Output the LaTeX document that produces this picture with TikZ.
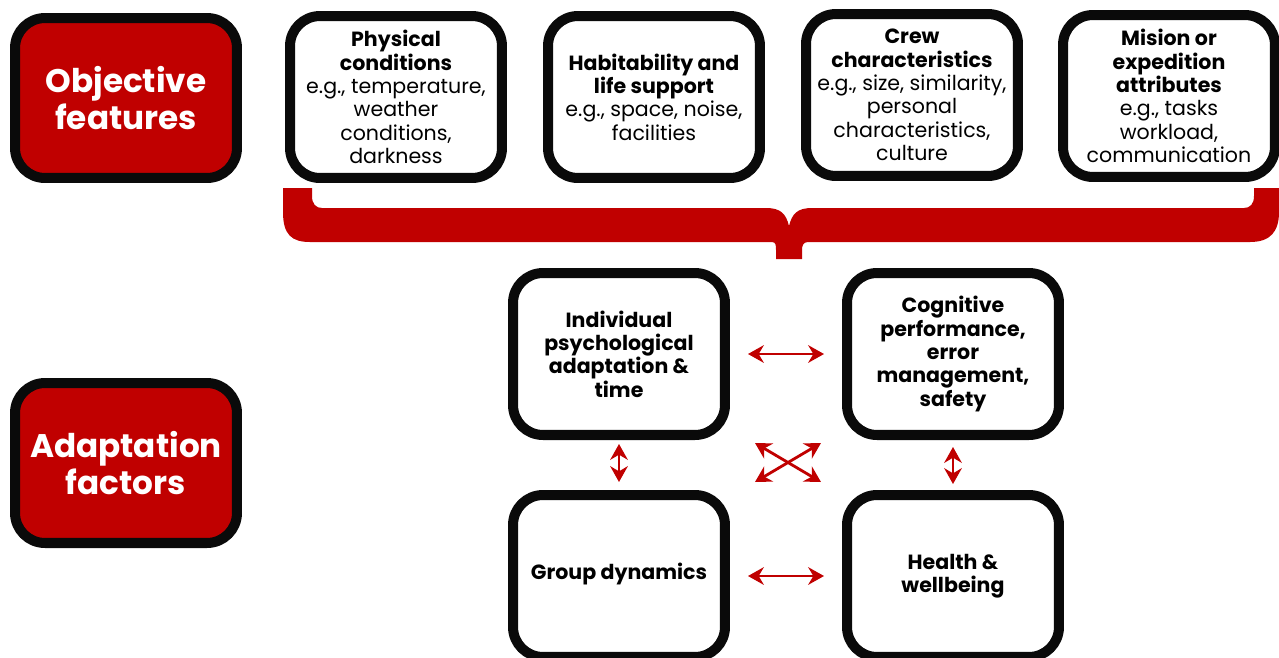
\documentclass[tikz,border=0pt]{standalone}
\usepackage{fontspec}
\setmainfont{Poppins}
\usetikzlibrary{arrows.meta}
\definecolor{darkred}{RGB}{192,0,0}
\definecolor{nearblack}{RGB}{10,10,10}
\tikzset{
  box/.style={draw=nearblack, line width=5.7pt, rounded corners=0.6cm, fill=white,
    minimum width=4.24cm, minimum height=3.24cm, inner sep=0pt, align=center,
    font=\fontsize{11.7}{13.3}\selectfont},
  boldbox/.style={box, font=\fontsize{11.7}{13.3}\selectfont\bfseries},
  redbox/.style={box, fill=darkred, text=white, minimum width=4.44cm, minimum height=3.2cm,
    font=\fontsize{18.6}{21}\selectfont\bfseries},
  link/.style={draw=darkred, line width=1.6pt,
    {Stealth[length=9pt,width=10pt]}-{Stealth[length=9pt,width=10pt]}}
}
\begin{document}
\begin{tikzpicture}[x=0.02cm,y=-0.02cm]
\useasboundingbox (0,0) rectangle (1279,657);
% left labels
\node[redbox] (obj) at (126,98) {Objective\\features};
\node[redbox] (adapt) at (126,463) {Adaptation\\factors};
% objective features
\node[box] (phys) at (396,97) {\textbf{Physical}\\\textbf{conditions}\\e.g., temperature,\\weather\\conditions,\\darkness};
\node[box] (hab) at (654,97) {\textbf{Habitability and}\\\textbf{life support}\\e.g., space, noise,\\facilities};
\node[box] (crew) at (912,95) {\textbf{Crew}\\\textbf{characteristics}\\e.g., size, similarity,\\personal\\characteristics,\\culture};
\node[box] (mis) at (1169,96) {\textbf{Mision or}\\\textbf{expedition}\\\textbf{attributes}\\e.g., tasks\\workload,\\communication};
% brace
\fill[darkred] (283,188) -- (283,212) .. controls (283,235) and (292,242) .. (310,242)
  -- (772,242) .. controls (776,242) and (776,246) .. (776,250) -- (776,259)
  -- (802,259) -- (802,250) .. controls (802,246) and (803,242) .. (808,242)
  -- (1250,242) .. controls (1270,242) and (1279,232) .. (1279,212) -- (1279,188)
  -- (1254,188) -- (1254,196) .. controls (1254,204) and (1250,208) .. (1244,208)
  -- (812,208) .. controls (797,208) and (792,214) .. (789,226)
  .. controls (786,214) and (781,208) .. (766,208)
  -- (322,208) .. controls (316,208) and (312,204) .. (312,196) -- (312,188) -- cycle;
% adaptation factors
\node[boldbox] (ind) at (619,354) {Individual\\psychological\\adaptation \&\\time};
\node[boldbox] (cog) at (953,354) {Cognitive\\performance,\\error\\management,\\safety};
\node[boldbox] (grp) at (619,576) {\raisebox{5pt}{Group dynamics}};
\node[boldbox] (hlth) at (953,576) {Health \&\\wellbeing};
% links
\draw[link, shorten <=0.36cm, shorten >=0.36cm] (ind.east) -- (cog.west);
\draw[link, shorten <=0.36cm, shorten >=0.36cm] (grp.east) -- (hlth.west);
\draw[link, shorten <=0.08cm, shorten >=0.16cm] (ind.south) -- (grp.north);
\draw[link, shorten <=0.14cm, shorten >=0.12cm] (cog.south) -- (hlth.north);
\coordinate (xa) at (755,443);
\coordinate (xb) at (821,482);
\coordinate (xc) at (755,482);
\coordinate (xd) at (821,443);
\draw[link] (xa) -- (xb);
\draw[link] (xc) -- (xd);
\end{tikzpicture}
\end{document}
